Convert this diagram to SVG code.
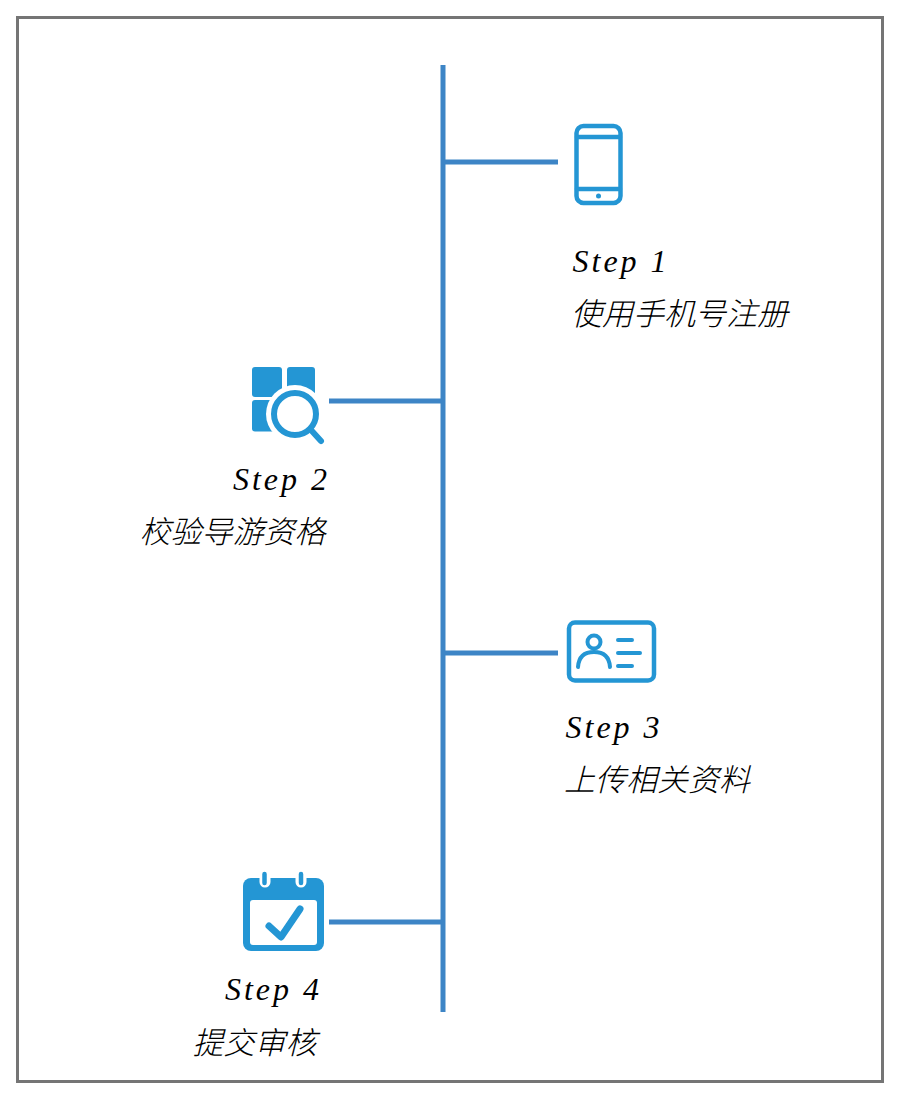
<svg xmlns="http://www.w3.org/2000/svg" width="900" height="1101" viewBox="0 0 900 1101">
<style>
.step{font-family:"Liberation Serif",serif;font-style:italic;font-size:32px;letter-spacing:3px;fill:#000}
.cn{font-family:"Noto Sans CJK SC",sans-serif;font-style:italic;font-weight:300;font-size:31px;fill:#000}
.end{text-anchor:end}
.ln{stroke:#3d85c6;stroke-width:5;fill:none}
.ol{stroke:#2496d4;fill:none;stroke-linecap:round;stroke-linejoin:round}
.fl{fill:#2496d4}
</style>
<rect x="17.500" y="17.500" width="865" height="1064" fill="#fff" stroke="#757575" stroke-width="3"/>
<g id="connectors">
<path class="ln" d="M443 65V1012"/>
<path class="ln" d="M443 162H558"/>
<path class="ln" d="M329 401H443"/>
<path class="ln" d="M443 653H558"/>
<path class="ln" d="M329 922H443"/>
</g>
<g id="step1">
<rect class="ol" x="576.500" y="126" width="44" height="77" rx="7" stroke-width="4.500"/>
<path class="ol" d="M577 137H620M577 189H620" stroke-width="4.500"/>
<circle class="fl" cx="598.500" cy="196" r="2.500"/>
<text class="step" x="572.500" y="272">Step 1</text>
<text class="cn" x="571" y="325">使用手机号注册</text>
</g>
<g id="step2">
<rect class="fl" x="252" y="367" width="30" height="30" rx="3"/>
<rect class="fl" x="287" y="367" width="28" height="30" rx="3"/>
<rect class="fl" x="252" y="400" width="30" height="31.500" rx="3"/>
<circle cx="295" cy="414" r="29" fill="#fff"/>
<circle cx="295" cy="414" r="21" fill="none" stroke="#2496d4" stroke-width="6"/>
<path class="ol" d="M311 430L321 441" stroke-width="6"/>
<text class="step end" x="330" y="490">Step 2</text>
<text class="cn end" x="325.500" y="543">校验导游资格</text>
</g>
<g id="step3">
<rect class="ol" x="569" y="622.500" width="85" height="58" rx="6" stroke-width="4.500"/>
<circle class="ol" cx="594" cy="642" r="6.500" stroke-width="4"/>
<path class="ol" d="M578 667Q579 652 594 652Q609 652 610 667" stroke-width="4"/>
<path class="ol" d="M618 640H632M618 653H640M618 666H632" stroke-width="4"/>
<text class="step" x="565.500" y="738">Step 3</text>
<text class="cn" x="564" y="791">上传相关资料</text>
</g>
<g id="step4">
<rect class="fl" x="243" y="878" width="81" height="73" rx="8"/>
<rect x="250" y="900" width="67" height="45" rx="3" fill="#fff"/>
<path d="M265 872V882M301 872V882" stroke="#fff" stroke-width="11" stroke-linecap="round" fill="none"/>
<path class="ol" d="M264.500 874V883M301 874V883" stroke-width="4.500"/>
<path class="ol" d="M269 926L281 937L300 909" stroke-width="7"/>
<text class="step end" x="322" y="1000">Step 4</text>
<text class="cn end" x="316.500" y="1054">提交审核</text>
</g>
</svg>
